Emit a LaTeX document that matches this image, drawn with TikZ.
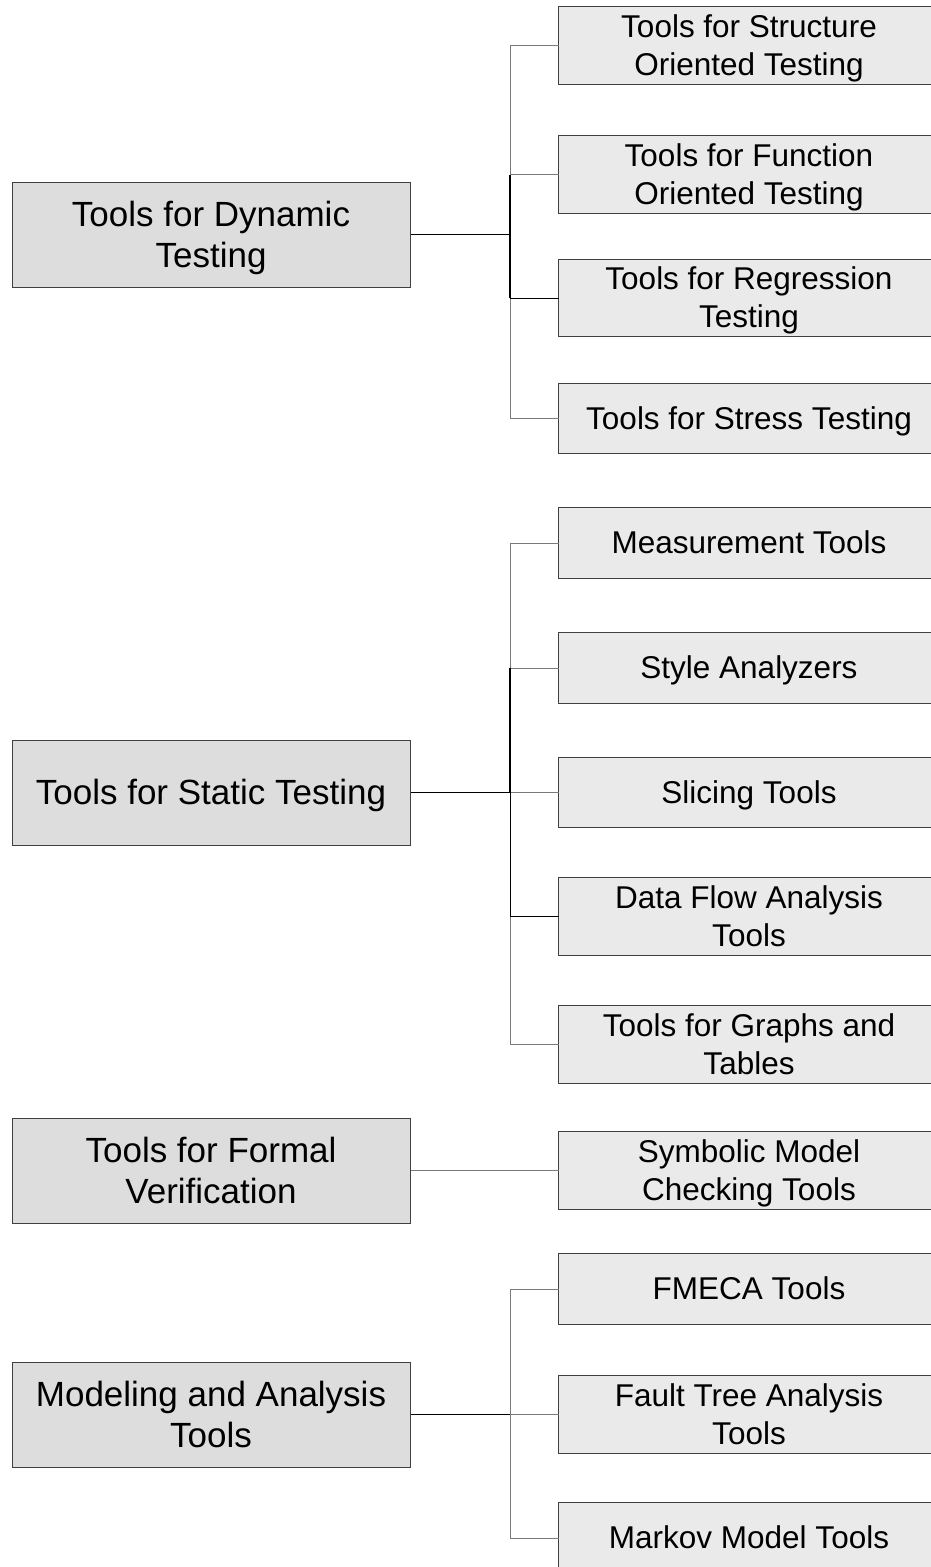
\documentclass[tikz,border=0pt]{standalone}
\usepackage{fontspec}
\setmainfont{Liberation Sans}
\usetikzlibrary{backgrounds}
\definecolor{catfill}{HTML}{DDDDDD}
\definecolor{toolfill}{HTML}{EAEAEA}
\definecolor{edgecol}{HTML}{404040}
\definecolor{branchcol}{HTML}{7A7A7A}
\begin{document}
\begin{tikzpicture}[x=1pt,y=-1pt,
  catbox/.style={draw=edgecol, line width=1pt, fill=catfill,
    minimum width=398pt, minimum height=105pt, inner sep=0pt,
    align=center, font=\fontsize{35}{41}\selectfont, text depth=7.4pt},
  catone/.style={text height=31.7pt},
  cattwo/.style={text height=72.7pt},
  toolbox/.style={minimum width=380pt, inner sep=0pt,
    align=center, font=\fontsize{31.5}{38}\selectfont, text depth=6.7pt},
  oneline/.style={minimum height=70pt, text height=28.5pt},
  twoline/.style={minimum height=77pt, text height=66.5pt},
  toolframe/.style={draw=edgecol, line width=1pt, fill=toolfill},
  trunk/.style={draw=black, line width=1.8pt},
  branch/.style={draw=branchcol, line width=1pt},
  darkbranch/.style={draw=black, line width=1pt},
  darkspine/.style={draw=black, line width=1.6pt}]
\useasboundingbox (0,0) rectangle (930,1567);

% category boxes
\node[catbox,cattwo] (dyn)  at (211,234.5)  {Tools for Dynamic\\Testing};
\node[catbox,catone] (stat) at (211,792.5)  {Tools for Static Testing};
\node[catbox,cattwo] (form) at (211,1170.5) {Tools for Formal\\Verification};
\node[catbox,cattwo] (mod)  at (211,1414.5) {Modeling and Analysis\\Tools};

% tool boxes (frames run on past the right margin)
\node[toolbox,twoline] (struct) at (749,45.5)   {Tools for Structure\\Oriented Testing};
\node[toolbox,twoline] (func)   at (749,174.5)  {Tools for Function\\Oriented Testing};
\node[toolbox,twoline] (regr)   at (749,298)    {Tools for Regression\\Testing};
\node[toolbox,oneline] (stress) at (749,418.5)  {Tools for Stress Testing};
\node[toolbox,oneline] (meas)   at (749,543)    {Measurement Tools};
\node[toolbox,oneline] (style)  at (749,668)    {Style Analyzers};
\node[toolbox,oneline] (slice)  at (749,792.5)  {Slicing Tools};
\node[toolbox,twoline] (dflow)  at (749,916.5)  {Data Flow Analysis\\Tools};
\node[toolbox,twoline] (graph)  at (749,1044.5) {Tools for Graphs and\\Tables};
\node[toolbox,twoline] (symb)   at (749,1170.5) {Symbolic Model\\Checking Tools};
\node[toolbox,oneline] (fmeca)  at (749,1289)   {FMECA Tools};
\node[toolbox,twoline] (fault)  at (749,1414.5) {Fault Tree Analysis\\Tools};
\node[toolbox,oneline] (markov) at (749,1538)   {Markov Model Tools};

\begin{scope}[on background layer]
  \fill[white] (0,0) rectangle (930,1567);
  \foreach \t in {struct,func,regr,stress,meas,style,slice,dflow,graph,symb,fmeca,fault,markov}
    \draw[toolframe] (\t.north west) rectangle ([xshift=60pt]\t.south east);
\end{scope}

% junction points on the brackets
\coordinate (jdyn)  at (510,234.5);
\coordinate (jstat) at (510,792.5);
\coordinate (jmod)  at (510,1414.5);

% dynamic testing group
\foreach \t in {struct,func,regr,stress}
  \draw[branch] (\t.west) -| (jdyn);
\draw[darkbranch] (regr.west) -- (regr.west -| jdyn);
\draw[darkspine] (func.west -| jdyn) -- (regr.west -| jdyn);
\draw[trunk] (dyn.east) -- (jdyn);

% static testing group
\foreach \t in {meas,style,slice,dflow,graph}
  \draw[branch] (\t.west) -| (jstat);
\draw[darkbranch] (dflow.west) -- (dflow.west -| jstat);
\draw[darkbranch] (jstat) -- (dflow.west -| jstat);
\draw[darkspine] (style.west -| jstat) -- (jstat);
\draw[trunk] (stat.east) -- (jstat);

% formal verification
\draw[branch] (form.east) -- (symb.west);

% modeling and analysis group
\foreach \t in {fmeca,fault,markov}
  \draw[branch] (\t.west) -| (jmod);
\draw[trunk] (mod.east) -- (jmod);
\end{tikzpicture}
\end{document}
